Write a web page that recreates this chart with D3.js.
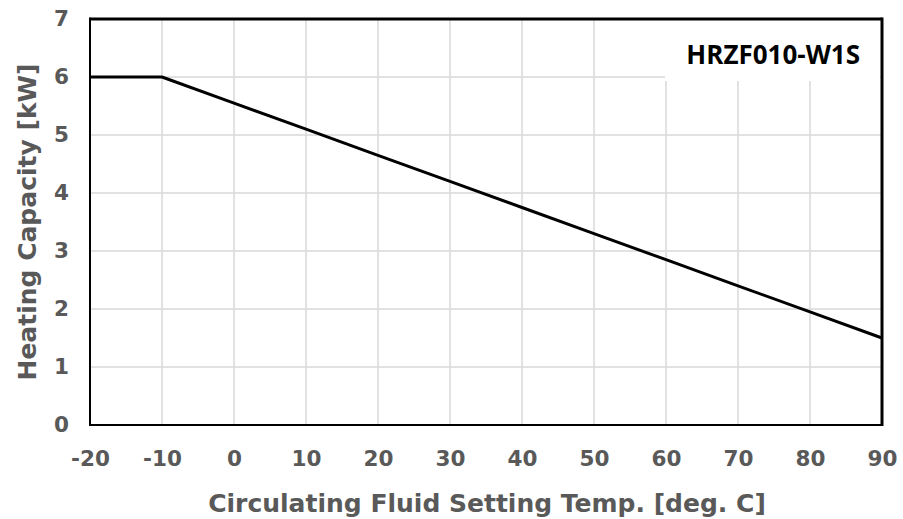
<!DOCTYPE html>
<html><head><meta charset="utf-8">
<script src="https://cdn.jsdelivr.net/npm/d3@7"></script>
<style>body{margin:0;background:#fff;}svg{display:block;}</style>
</head><body>
<script>
const temps = [-20, -10, 0, 10, 20, 30, 40, 50, 60, 70, 80, 90];
const capacity = [6, 6, 5.55, 5.1, 4.65, 4.2, 3.75, 3.3, 2.85, 2.4, 1.95, 1.5];
const xTicks = [-20, -10, 0, 10, 20, 30, 40, 50, 60, 70, 80, 90];
const yTicks = [0, 1, 2, 3, 4, 5, 6, 7];
const modelLabel = "HRZF010-W1S";
const xTitle = "Circulating Fluid Setting Temp. [deg. C]";
const yTitle = "Heating Capacity [kW]";

const W = 903, H = 519;
const m = {left: 90, right: 882, top: 19, bottom: 425};
const svg = d3.select("body").append("svg").attr("width", W).attr("height", H);
const x = d3.scaleLinear().domain([-20, 90]).range([m.left, m.right]);
const y = d3.scaleLinear().domain([0, 7]).range([m.bottom, m.top]);
const fontTick = "'DejaVu Sans', Verdana, sans-serif";
const gray = "#595959";

// gridlines
const grid = svg.append("g").attr("stroke", "#d9d9d9").attr("stroke-width", 1.5);
grid.selectAll("line.v").data(xTicks.slice(1, -1)).join("line")
  .attr("x1", d => x(d)).attr("x2", d => x(d)).attr("y1", m.top).attr("y2", m.bottom);
grid.selectAll("line.h").data(yTicks.slice(1, -1)).join("line")
  .attr("x1", m.left).attr("x2", m.right).attr("y1", d => y(d)).attr("y2", d => y(d));

// label box covering grid
svg.append("rect").attr("x", 665).attr("y", m.top + 1).attr("width", m.right - 665 - 2).attr("height", 61).attr("fill", "#fff");
svg.append("text").attr("x", 860).attr("y", 64).attr("text-anchor", "end")
  .attr("font-family", "'Open Sans', sans-serif").attr("font-weight", "bold").attr("font-size", 26)
  .attr("fill", "#000").text(modelLabel);

// data line
const line = d3.line().x((d, i) => x(temps[i])).y(d => y(d));
svg.append("path").datum(capacity).attr("d", line).attr("fill", "none")
  .attr("stroke", "#000").attr("stroke-width", 3).attr("stroke-linejoin", "round");

// frame
svg.append("line").attr("x1", m.left).attr("x2", m.right).attr("y1", m.top).attr("y2", m.top).attr("stroke", "#000").attr("stroke-width", 3);
svg.append("line").attr("x1", m.right).attr("x2", m.right).attr("y1", m.top - 1.5).attr("y2", m.bottom + 1).attr("stroke", "#000").attr("stroke-width", 3);
svg.append("line").attr("x1", m.left).attr("x2", m.right).attr("y1", m.bottom).attr("y2", m.bottom).attr("stroke", "#000").attr("stroke-width", 2);
svg.append("line").attr("x1", m.left).attr("x2", m.left).attr("y1", m.top - 1.5).attr("y2", m.bottom + 1).attr("stroke", "#000").attr("stroke-width", 2);

// axes
const xAxis = svg.append("g").attr("transform", `translate(0,${m.bottom})`)
  .call(d3.axisBottom(x).tickValues(xTicks).tickSize(0).tickPadding(26).tickFormat(d => String(d)));
xAxis.select(".domain").remove();
xAxis.selectAll("text").attr("font-family", fontTick).attr("font-weight", "bold").attr("font-size", 21.5).attr("fill", gray);

const yAxis = svg.append("g").attr("transform", `translate(${m.left},0)`)
  .call(d3.axisLeft(y).tickValues(yTicks).tickSize(0).tickPadding(21).tickFormat(d => String(d)));
yAxis.select(".domain").remove();
yAxis.selectAll("text").attr("font-family", fontTick).attr("font-weight", "bold").attr("font-size", 21.5).attr("fill", gray);

// titles
svg.append("text").attr("x", 487).attr("y", 512).attr("text-anchor", "middle")
  .attr("font-family", fontTick).attr("font-weight", "bold").attr("font-size", 25).attr("fill", gray).text(xTitle);
svg.append("text").attr("transform", `translate(36,${(m.top + m.bottom) / 2}) rotate(-90)`).attr("text-anchor", "middle")
  .attr("font-family", fontTick).attr("font-weight", "bold").attr("font-size", 25).attr("fill", gray).text(yTitle);
</script>
</body></html>
